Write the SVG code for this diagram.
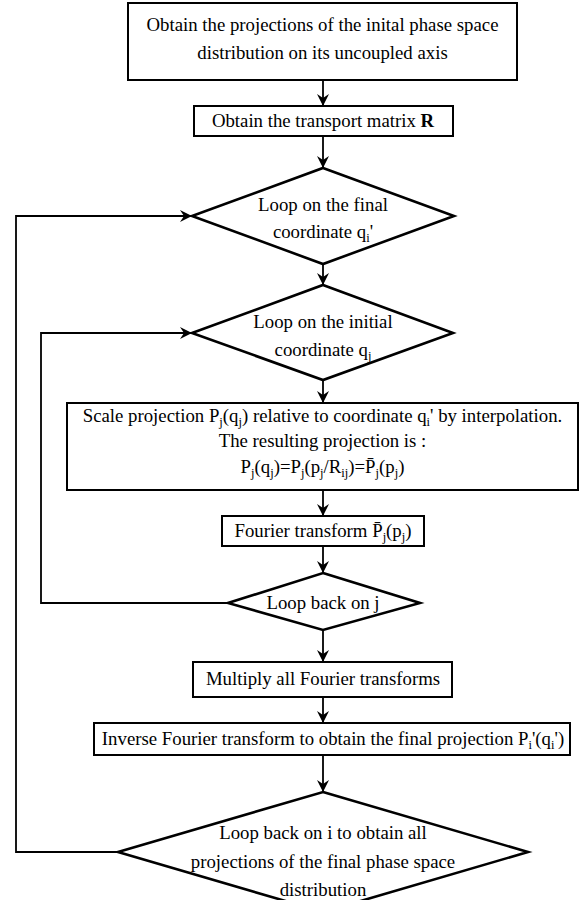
<svg xmlns="http://www.w3.org/2000/svg" width="581" height="900" viewBox="0 0 581 900">
<style>
text{font-family:"Liberation Serif","Times New Roman",serif;font-size:18.8px;fill:#000;text-anchor:middle}
.box{fill:#fff;stroke:#000;stroke-width:2}
.dia{fill:#fff;stroke:#000;stroke-width:2.6;stroke-linejoin:miter}
.con{fill:none;stroke:#000;stroke-width:1.8}
.s{font-size:12.5px}
</style>
<defs>
<marker id="ah" viewBox="0 0 12 12" refX="12" refY="6" markerWidth="12" markerHeight="12" markerUnits="userSpaceOnUse" orient="auto">
<path d="M0,0 L12,6 L0,12 L4,6 z" fill="#000"/>
</marker>
</defs>
<rect width="581" height="900" fill="#fff"/>
<g id="connectors">
<line class="con" x1="323" y1="80" x2="323" y2="106" marker-end="url(#ah)"/>
<line class="con" x1="323" y1="136" x2="323" y2="168" marker-end="url(#ah)"/>
<line class="con" x1="323" y1="264" x2="323" y2="285" marker-end="url(#ah)"/>
<line class="con" x1="323" y1="380" x2="323" y2="403" marker-end="url(#ah)"/>
<line class="con" x1="323" y1="490" x2="323" y2="516" marker-end="url(#ah)"/>
<line class="con" x1="323" y1="546" x2="323" y2="573" marker-end="url(#ah)"/>
<line class="con" x1="323" y1="630" x2="323" y2="662" marker-end="url(#ah)"/>
<line class="con" x1="323" y1="697" x2="323" y2="723" marker-end="url(#ah)"/>
<line class="con" x1="323" y1="755" x2="323" y2="792" marker-end="url(#ah)"/>
<polyline class="con" points="228,603 41,603 41,333 192,333" marker-end="url(#ah)"/>
<polyline class="con" points="118,852 16,852 16,216 192,216" marker-end="url(#ah)"/>
</g>
<g id="n1">
<rect class="box" x="128" y="3" width="389" height="77"/>
<text x="322.5" y="31">Obtain the projections of the inital phase space</text>
<text x="322.5" y="59">distribution on its uncoupled axis</text>
</g>
<g id="n2">
<rect class="box" x="194" y="106" width="259" height="30"/>
<text x="323" y="127">Obtain the transport matrix <tspan font-weight="bold">R</tspan></text>
</g>
<g id="n3">
<polygon class="dia" points="323,168 454,216 323,264 192,216"/>
<text x="323" y="211">Loop on the final</text>
<text x="323" y="238">coordinate q<tspan class="s" dy="4">i</tspan><tspan dy="-4">'</tspan></text>
</g>
<g id="n4">
<polygon class="dia" points="323,285 453,333 323,380 192,333"/>
<text x="323" y="328">Loop on the initial</text>
<text x="323" y="356">coordinate q<tspan class="s" dy="4">j</tspan></text>
</g>
<g id="n5">
<rect class="box" x="67" y="403" width="511" height="87"/>
<text x="322.5" y="422">Scale projection P<tspan class="s" dy="4">j</tspan><tspan dy="-4">(q</tspan><tspan class="s" dy="4">j</tspan><tspan dy="-4">) relative to coordinate q</tspan><tspan class="s" dy="4">i</tspan><tspan dy="-4">' by interpolation.</tspan></text>
<text x="322.5" y="447">The resulting projection is :</text>
<text x="322.5" y="473">P<tspan class="s" dy="4">j</tspan><tspan dy="-4">(q</tspan><tspan class="s" dy="4">j</tspan><tspan dy="-4">)=P</tspan><tspan class="s" dy="4">j</tspan><tspan dy="-4">(p</tspan><tspan class="s" dy="4">j</tspan><tspan dy="-4">/R</tspan><tspan class="s" dy="4">ij</tspan><tspan dy="-4">)=P̄</tspan><tspan class="s" dy="4">j</tspan><tspan dy="-4">(p</tspan><tspan class="s" dy="4">j</tspan><tspan dy="-4">)</tspan></text>
</g>
<g id="n6">
<rect class="box" x="222" y="516" width="202" height="30"/>
<text x="323" y="537">Fourier transform  P̄<tspan class="s" dy="4">j</tspan><tspan dy="-4">(p</tspan><tspan class="s" dy="4">j</tspan><tspan dy="-4">)</tspan></text>
</g>
<g id="n7">
<polygon class="dia" points="323,573 420,603 323,630 228,603"/>
<text x="323" y="609">Loop back on j</text>
</g>
<g id="n8">
<rect class="box" x="193" y="662" width="259" height="35"/>
<text x="323" y="685">Multiply all Fourier transforms</text>
</g>
<g id="n9">
<rect class="box" x="94" y="723" width="476" height="32"/>
<text x="333" y="745">Inverse Fourier transform to obtain the final projection  P<tspan class="s" dy="4">i</tspan><tspan dy="-4">'(q</tspan><tspan class="s" dy="4">i</tspan><tspan dy="-4">')</tspan></text>
</g>
<g id="n10">
<polygon class="dia" points="323,792 528,852 323,912 118,852"/>
<text x="323" y="839">Loop back on i to obtain all</text>
<text x="323" y="868">projections of the final phase space</text>
<text x="323" y="896">distribution</text>
</g>
</svg>
